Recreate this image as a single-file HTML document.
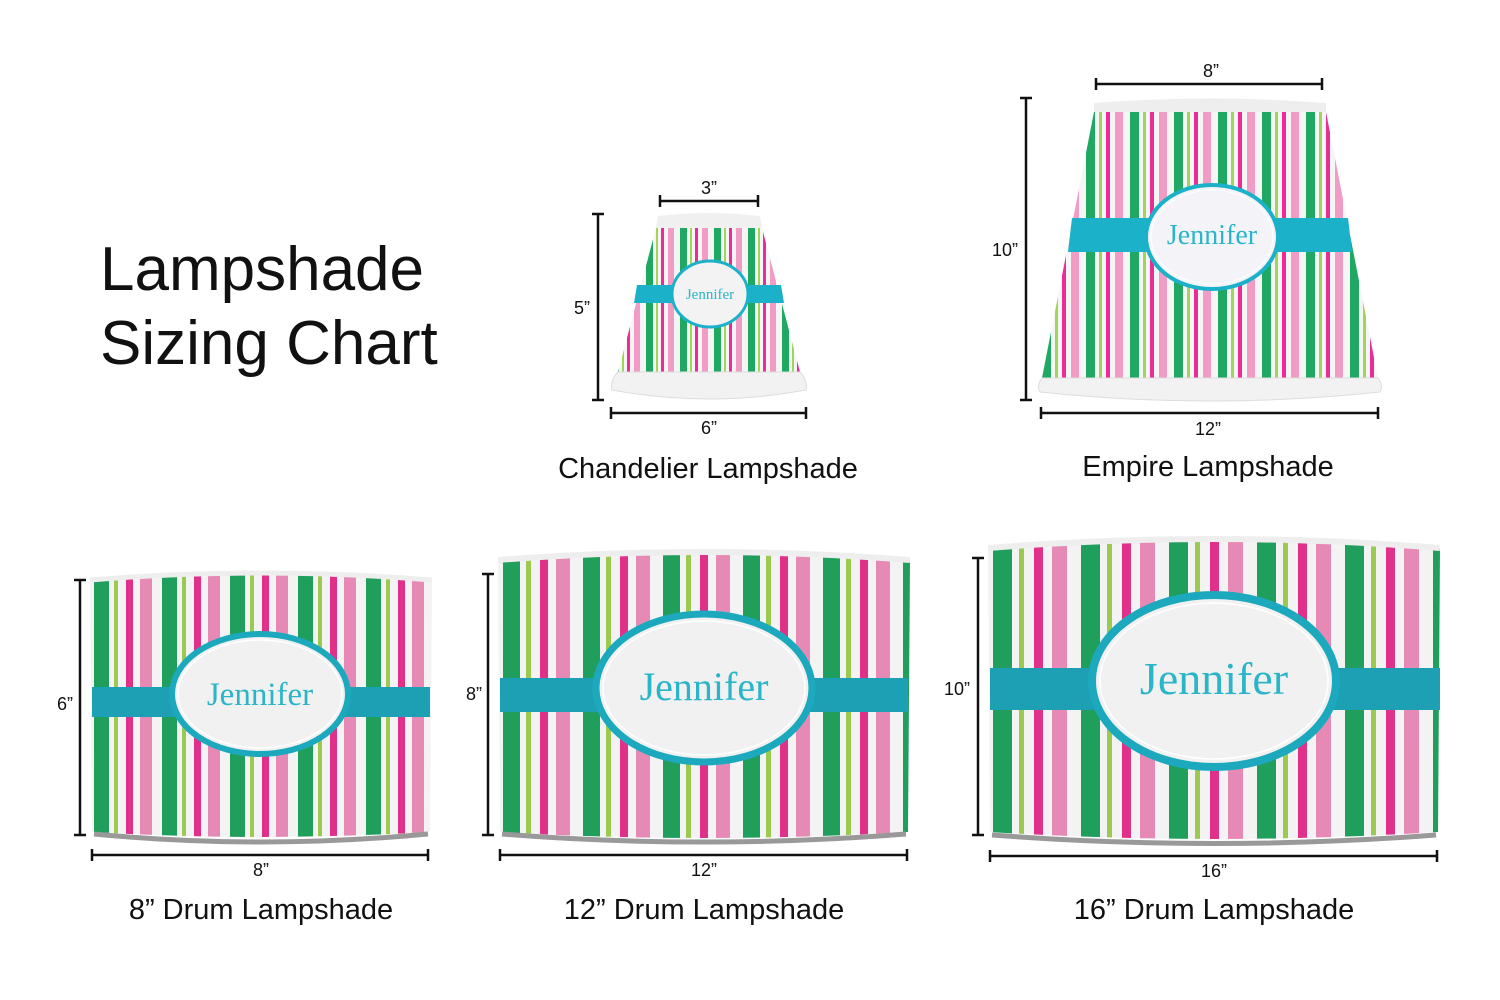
<!DOCTYPE html>
<html><head><meta charset="utf-8"><style>
html,body{margin:0;padding:0;background:#fff;}
svg{display:block;}
text{font-family:"Liberation Sans",sans-serif;fill:#111;}
.j{font-family:"Liberation Serif",serif;fill:#2ab5c8;}
</style></head><body>
<svg width="1500" height="1000" viewBox="0 0 1500 1000" xmlns="http://www.w3.org/2000/svg">
<defs>
<pattern id="s1" width="68" height="10" patternUnits="userSpaceOnUse" x="90">
<rect width="68" height="10" fill="#f3f3f3"/>
<rect x="4" width="15" height="10" fill="#1f9e5c"/>
<rect x="24" width="4" height="10" fill="#9cc94f"/>
<rect x="36" width="7" height="10" fill="#e0308a"/>
<rect x="50" width="12" height="10" fill="#e68ab5"/>
</pattern>
<pattern id="s2" width="80" height="10" patternUnits="userSpaceOnUse" x="498">
<rect width="80" height="10" fill="#f3f3f3"/>
<rect x="5" width="17" height="10" fill="#1f9e5c"/>
<rect x="28" width="5" height="10" fill="#9cc94f"/>
<rect x="42" width="8" height="10" fill="#e0308a"/>
<rect x="58" width="14" height="10" fill="#e68ab5"/>
</pattern>
<pattern id="s3" width="88" height="10" patternUnits="userSpaceOnUse" x="988">
<rect width="88" height="10" fill="#f3f3f3"/>
<rect x="5" width="19" height="10" fill="#1f9e5c"/>
<rect x="31" width="5" height="10" fill="#9cc94f"/>
<rect x="46" width="9" height="10" fill="#e0308a"/>
<rect x="64" width="15" height="10" fill="#e68ab5"/>
</pattern>
<pattern id="s4" width="34" height="10" patternUnits="userSpaceOnUse" x="610">
<rect width="34" height="10" fill="#f5f5f5"/>
<rect x="2" width="7" height="10" fill="#1fa862"/>
<rect x="12" width="2" height="10" fill="#a3d45a"/>
<rect x="17" width="3" height="10" fill="#ec2c95"/>
<rect x="24" width="6" height="10" fill="#f09cc4"/>
</pattern>
<pattern id="s5" width="44" height="10" patternUnits="userSpaceOnUse" x="1040">
<rect width="44" height="10" fill="#f5f5f5"/>
<rect x="2" width="9" height="10" fill="#1fa862"/>
<rect x="15" width="3" height="10" fill="#a3d45a"/>
<rect x="22" width="4" height="10" fill="#ec2c95"/>
<rect x="31" width="8" height="10" fill="#f09cc4"/>
</pattern>
</defs>

<text x="100" y="290" font-size="62">Lampshade</text>
<text x="100" y="364" font-size="62">Sizing Chart</text>

<!-- Chandelier -->
<path d="M658 216 Q709 210 760 216 L762 228 L656 228 Z" fill="#f0f0f0"/>
<path d="M656 228 L762 228 L800 372 L618 372 Z" fill="url(#s4)"/>
<path d="M618 372 L800 372 Q808 380 806 390 Q709 408 612 390 Q610 380 618 372 Z" fill="#f2f2f2" stroke="#ddd"/>
<path d="M637 285 L781 285 L784 303 L634 303 Z" fill="#1ab1c9"/>
<ellipse cx="710" cy="294" rx="38" ry="33" fill="#f3f3f3" stroke="#1ab1c9" stroke-width="3"/>
<text class="j" x="710" y="299" font-size="15" text-anchor="middle">Jennifer</text>

<!-- Empire -->
<path d="M1094 103 Q1210 94 1326 103 L1326 112 L1094 112 Z" fill="#eee"/>
<path d="M1094 112 L1326 112 L1378 378 L1042 378 Z" fill="url(#s5)"/>
<path d="M1042 378 L1378 378 Q1384 386 1380 392 Q1210 410 1040 392 Q1036 386 1042 378 Z" fill="#f2f2f2" stroke="#ddd"/>
<path d="M1072 218 L1348 218 L1352 252 L1068 252 Z" fill="#1ab1c9"/>
<ellipse cx="1212" cy="237" rx="66" ry="52" fill="#f4f4f8" stroke="#1ab1c9" stroke-width="4"/>
<ellipse cx="1212" cy="237" rx="61" ry="47" fill="none" stroke="#fff" stroke-width="1"/>
<text class="j" x="1212" y="244" font-size="28" text-anchor="middle">Jennifer</text>

<!-- Drum 8 -->
<path d="M90 580 Q261 566 432 580 L430 832 Q261 842 92 832 Z" fill="url(#s1)"/>
<path d="M90 580 Q261 566 432 580" fill="none" stroke="#eee" stroke-width="5"/>
<path d="M94 834 Q261 850 428 834" fill="none" stroke="#999" stroke-width="5"/>
<path d="M92 687 L430 687 L430 717 L92 717 Z" fill="#1d9fb4"/>
<ellipse cx="260" cy="694" rx="88" ry="60" fill="#f1f1f1" stroke="#1da9bd" stroke-width="6"/>
<ellipse cx="260" cy="694" rx="82" ry="54" fill="none" stroke="#fff" stroke-width="1.5"/>
<text class="j" x="260" y="705" font-size="33" text-anchor="middle">Jennifer</text>

<!-- Drum 12 -->
<path d="M498 560 Q704 544 910 560 L908 832 Q704 844 500 832 Z" fill="url(#s2)"/>
<path d="M498 560 Q704 544 910 560" fill="none" stroke="#eee" stroke-width="6"/>
<path d="M502 834 Q704 850 906 834" fill="none" stroke="#999" stroke-width="5"/>
<path d="M500 678 L908 678 L908 712 L500 712 Z" fill="#1d9fb4"/>
<ellipse cx="704" cy="688" rx="108" ry="74" fill="#f1f1f1" stroke="#1da9bd" stroke-width="7"/>
<ellipse cx="704" cy="688" rx="101" ry="67" fill="none" stroke="#fff" stroke-width="1.5"/>
<text class="j" x="704" y="700" font-size="40" text-anchor="middle">Jennifer</text>

<!-- Drum 16 -->
<path d="M988 548 Q1214 530 1440 548 L1438 832 Q1214 846 990 832 Z" fill="url(#s3)"/>
<path d="M988 548 Q1214 530 1440 548" fill="none" stroke="#eee" stroke-width="6"/>
<path d="M992 835 Q1214 852 1436 835" fill="none" stroke="#999" stroke-width="5"/>
<path d="M990 668 L1440 668 L1440 710 L990 710 Z" fill="#1d9fb4"/>
<ellipse cx="1214" cy="681" rx="122" ry="86" fill="#f1f1f1" stroke="#1da9bd" stroke-width="8"/>
<ellipse cx="1214" cy="681" rx="114" ry="78" fill="none" stroke="#fff" stroke-width="1.5"/>
<text class="j" x="1214" y="694" font-size="46" text-anchor="middle">Jennifer</text>

<!-- Dimension lines -->
<g stroke="#111" stroke-width="2.5" fill="none">
<path d="M660 201 H758 M660 195 V207 M758 195 V207"/>
<path d="M598 214 V400 M592 214 H604 M592 400 H604"/>
<path d="M611 413 H806 M611 407 V419 M806 407 V419"/>
<path d="M1096 84 H1322 M1096 78 V90 M1322 78 V90"/>
<path d="M1026 98 V400 M1020 98 H1032 M1020 400 H1032"/>
<path d="M1041 413 H1378 M1041 407 V419 M1378 407 V419"/>
<path d="M80 580 V835 M74 580 H86 M74 835 H86"/>
<path d="M92 855 H428 M92 849 V861 M428 849 V861"/>
<path d="M488 574 V835 M482 574 H494 M482 835 H494"/>
<path d="M500 855 H907 M500 849 V861 M907 849 V861"/>
<path d="M978 558 V835 M972 558 H984 M972 835 H984"/>
<path d="M990 856 H1437 M990 850 V862 M1437 850 V862"/>
</g>
<g font-size="18" text-anchor="middle">
<text x="709" y="194">3”</text>
<text x="582" y="314">5”</text>
<text x="709" y="434">6”</text>
<text x="1211" y="77">8”</text>
<text x="1005" y="256">10”</text>
<text x="1208" y="435">12”</text>
<text x="65" y="710">6”</text>
<text x="261" y="876">8”</text>
<text x="474" y="700">8”</text>
<text x="704" y="876">12”</text>
<text x="957" y="695">10”</text>
<text x="1214" y="877">16”</text>
</g>
<g font-size="29" text-anchor="middle">
<text x="708" y="478">Chandelier Lampshade</text>
<text x="1208" y="476">Empire Lampshade</text>
<text x="261" y="919">8” Drum Lampshade</text>
<text x="704" y="919">12” Drum Lampshade</text>
<text x="1214" y="919">16” Drum Lampshade</text>
</g>
</svg>
</body></html>
